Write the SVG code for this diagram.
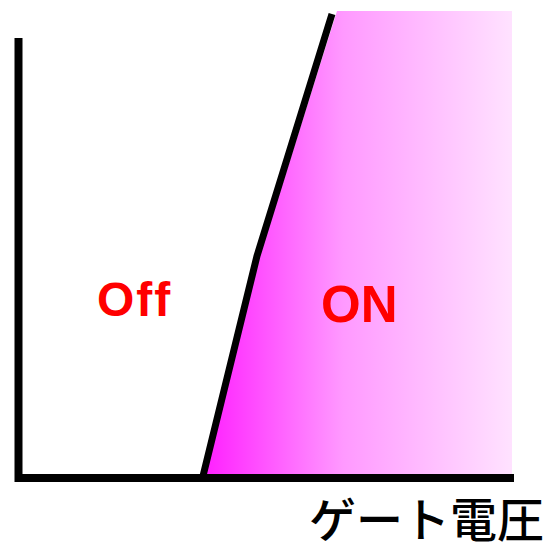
<svg xmlns="http://www.w3.org/2000/svg" width="549" height="548" viewBox="0 0 549 548">
<defs>
<linearGradient id="g" x1="205" y1="0" x2="512" y2="0" gradientUnits="userSpaceOnUse">
<stop offset="0" stop-color="#ff20ff"/>
<stop offset="0.45" stop-color="#ff99ff"/>
<stop offset="1" stop-color="#ffe2ff"/>
</linearGradient>
<style>
.ax{stroke:#000;stroke-width:8;fill:none}
.lbl{font-family:"Liberation Sans",Arial,sans-serif;font-weight:bold;fill:#ff0000}
.jp{font-family:"Noto Sans CJK JP",sans-serif;fill:#000;font-weight:500}
</style>
</defs>
<g id="on-region">
<polygon points="206,474 260,255 337,11 512,11 512,474" fill="url(#g)"/>
</g>
<g id="connectors">
<polyline class="ax" points="18.5,38 18.5,478 514,478"/>
<polyline points="203,476 257,256 332,14" fill="none" stroke="#000" stroke-width="7"/>
</g>
<g id="off-label"><text class="lbl" x="97" y="316" font-size="48" letter-spacing="2">Off</text></g>
<g id="on-label"><text class="lbl" x="321" y="322" font-size="51">ON</text></g>
<g id="axis-label"><text class="jp" x="544" y="537" font-size="47" text-anchor="end">ゲート電圧</text></g>
</svg>
